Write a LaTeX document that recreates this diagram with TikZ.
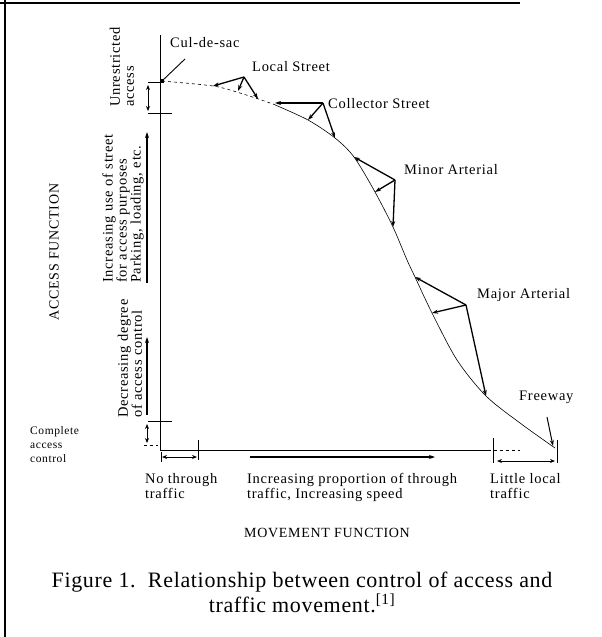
\documentclass[tikz,border=0pt]{standalone}
\usepackage{fontspec}
\setmainfont{Liberation Serif}
\newfontfamily\scanfont[LetterSpace=5]{Liberation Serif}
\newfontfamily\capfont[LetterSpace=3]{Liberation Serif}
\usepackage{tikz}
\usetikzlibrary{arrows.meta,positioning,calc}

\begin{document}
\begin{tikzpicture}[x=1pt,y=-1pt,
  lbl/.style={inner sep=0pt,font=\scanfont\fontsize{14.5}{14}\selectfont},
  side/.style={inner sep=0pt,rotate=90,anchor=west,align=left,font=\scanfont\fontsize{14.5}{14}\selectfont},
  vec/.style={line width=1.3pt,-{Stealth[length=6pt,width=4pt]}},
  dbl/.style={line width=1pt,{Stealth[length=5pt,width=4pt]}-{Stealth[length=5pt,width=4pt]}},
  tick/.style={line width=0.8pt}]
  \useasboundingbox (0,0) rectangle (602,637);
  \draw [line width=2.5pt] (0,3) -- (520,3);
  \draw [line width=2pt] (5,0) -- (5,637);

  \coordinate (ytop) at (160,35);
  \coordinate (o) at (160,450);
  \coordinate (xsolid) at (488,450);
  \coordinate (xend) at (520,450);
  \draw [line width=0.9pt] (ytop) -- (o) -- (xsolid);
  \draw [line width=0.9pt,dashed] (xsolid) -- (xend);

  \coordinate (cds) at (162,81);
  \draw [dashed,line width=0.6pt] plot [smooth] coordinates {(162,81) (213,86) (240,93) (273,104)};
  \draw [line width=0.6pt] plot [smooth] coordinates {(273,104) (308,120) (335,138) (354,157) (375,192) (393,227) (407,260) (415,277) (432,313) (457,360) (486,396) (520,423) (555,448)};
  \node [fill=black,minimum size=4pt,inner sep=0pt] at (cds) {};
  \coordinate (cdslead) at (185,59);
  \draw [line width=0.9pt] (cds) -- (cdslead);
  \node (culdesac) [lbl,anchor=west] at (170,43) {Cul-de-sac};

  \coordinate (la) at (244,77);
  \coordinate (l1) at (213,86);
  \coordinate (l2) at (238,91);
  \coordinate (l3) at (258,99);
  \draw [vec] (la) -- (l1);
  \draw [vec] (la) -- (l2);
  \draw [vec] (la) -- (l3);
  \node (local) [lbl,anchor=west] at (252,67) {Local Street};

  \coordinate (ca) at (323,103);
  \coordinate (c1) at (275,103);
  \coordinate (c2) at (308,120);
  \coordinate (c3) at (335,138);
  \draw [vec] (ca) -- (c1);
  \draw [vec] (ca) -- (c2);
  \draw [vec] (ca) -- (c3);
  \node (collector) [lbl,anchor=west] at (328,104) {Collector Street};

  \coordinate (ma) at (395,180);
  \coordinate (m1) at (354,157);
  \coordinate (m2) at (375,192);
  \coordinate (m3) at (393,227);
  \draw [vec] (ma) -- (m1);
  \draw [vec] (ma) -- (m2);
  \draw [vec] (ma) -- (m3);
  \node (minor) [lbl,anchor=west] at (404,170) {Minor Arterial};

  \coordinate (ja) at (466,305);
  \coordinate (j1) at (415,277);
  \coordinate (j2) at (432,313);
  \coordinate (j3) at (486,396);
  \draw [vec] (ja) -- (j1);
  \draw [vec] (ja) -- (j2);
  \draw [vec] (ja) -- (j3);
  \node (major) [lbl,anchor=west] at (477,295) {Major Arterial};

  \node (freeway) [lbl,anchor=west] at (519,397) {Freeway};
  \coordinate (fa) at (547,417);
  \coordinate (f1) at (553,446);
  \draw [vec,line width=1pt] (fa) -- (f1);

  \draw [tick] (148,82) -- (162,82);
  \draw [tick] (148,113) -- (172,113);
  \draw [dbl] (148,85) -- (148,111);
  \draw [vec,line width=1.8pt] (147,283) -- (147,132);
  \draw [vec,line width=1.8pt] (147,415) -- (147,337);
  \draw [tick] (148,421) -- (172,421);
  \draw [dbl] (147,424) -- (147,443);
  \draw [tick,dashed] (144,445) -- (158,445);

  \draw [tick] (161,452) -- (161,462);
  \draw [tick] (198,440) -- (198,460);
  \draw [dbl] (162,457) -- (197,457);
  \draw [vec,line width=1.8pt] (250,457) -- (435,457);
  \draw [tick] (493,438) -- (493,463);
  \draw [tick] (557,440) -- (557,463);
  \draw [dbl] (497,461) -- (555,461);

  \node (unrestr) [side] at (122,107) {Unrestricted\\access};
  \node (parking) [side] at (123,283) {Increasing use of street\\for access purposes\\Parking, loading, etc.};
  \node (decr) [side] at (130,418) {Decreasing degree\\of access control};
  \node (accfn) [lbl,rotate=90,font=\scanfont\fontsize{14}{14}\selectfont] at (54,252) {ACCESS FUNCTION};
  \node (complete) [inner sep=0pt,anchor=north west,align=left,font=\scanfont\fontsize{11.5}{14}\selectfont] at (30,426) {Complete\\access\\control};

  \node (nothrough) [lbl,anchor=north west,align=left,font=\scanfont\fontsize{14.5}{15}\selectfont] at (145,473) {No through\\traffic};
  \node (incprop) [lbl,anchor=north west,align=left,font=\scanfont\fontsize{14.5}{15}\selectfont] at (247,473) {Increasing proportion of through\\traffic, Increasing speed};
  \node (little) [lbl,anchor=north west,align=left,font=\scanfont\fontsize{14.5}{15}\selectfont] at (490,473) {Little local\\traffic};
  \node (movfn) [lbl,font=\scanfont\fontsize{14}{14}\selectfont] at (327,533) {MOVEMENT FUNCTION};
  \node (caption) [inner sep=0pt,align=center,font=\capfont\fontsize{22}{25}\selectfont] at (302,592) {Figure 1.\ \ Relationship between control of access and\\traffic movement.\textsuperscript{[1]}};
\end{tikzpicture}
\end{document}
